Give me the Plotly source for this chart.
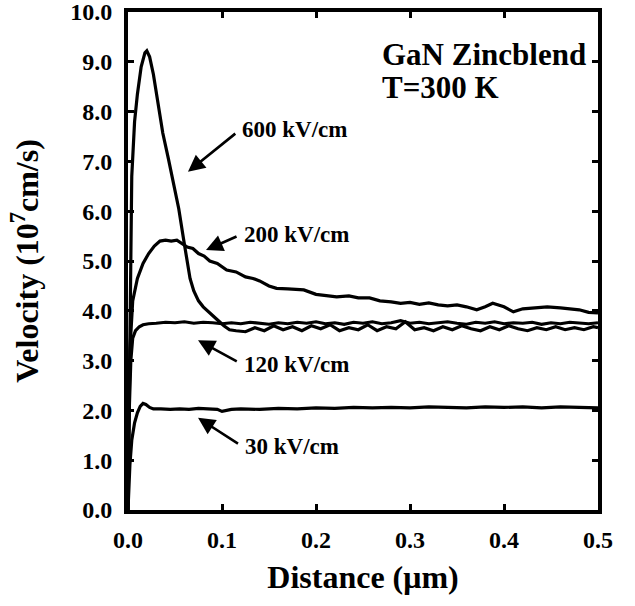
import plotly.graph_objects as go

# ---- data ----
x600 = [0, 0.002, 0.004, 0.007, 0.010, 0.014, 0.018, 0.020, 0.023, 0.027, 0.031, 0.037,
        0.043, 0.048, 0.054, 0.059, 0.063, 0.066, 0.070, 0.075, 0.080, 0.087, 0.095, 0.102,
        0.108, 0.115, 0.125, 0.135, 0.145, 0.155, 0.165, 0.175, 0.185, 0.195, 0.205, 0.215,
        0.225, 0.235, 0.245, 0.255, 0.265, 0.275, 0.285, 0.295, 0.305, 0.315, 0.325, 0.335,
        0.345, 0.355, 0.365, 0.375, 0.385, 0.395, 0.405, 0.415, 0.425, 0.435, 0.445, 0.455,
        0.465, 0.475, 0.485, 0.495, 0.5]
v600 = [0, 4.0, 6.7, 7.8, 8.35, 8.9, 9.18, 9.22, 9.1, 8.75, 8.3, 7.57,
        7.05, 6.57, 6.05, 5.45, 5.0, 4.65, 4.4, 4.2, 4.08, 3.95, 3.82, 3.7,
        3.62, 3.6, 3.58, 3.66, 3.6, 3.7, 3.62, 3.68, 3.6, 3.7, 3.64, 3.72,
        3.6, 3.66, 3.62, 3.72, 3.6, 3.68, 3.64, 3.78, 3.62, 3.66, 3.6, 3.68,
        3.62, 3.7, 3.64, 3.6, 3.68, 3.62, 3.7, 3.64, 3.6, 3.66, 3.62, 3.68,
        3.62, 3.66, 3.62, 3.68, 3.66]

x200 = [0, 0.002, 0.005, 0.010, 0.016, 0.022, 0.028, 0.034, 0.040, 0.046, 0.052, 0.058,
        0.063, 0.069, 0.075, 0.081, 0.087, 0.095, 0.105, 0.115, 0.125, 0.133, 0.140, 0.150,
        0.158, 0.170, 0.180, 0.187, 0.200, 0.210, 0.222, 0.235, 0.245, 0.257, 0.268, 0.280,
        0.290, 0.300, 0.310, 0.320, 0.330, 0.340, 0.350, 0.360, 0.371, 0.380, 0.388, 0.400,
        0.410, 0.420, 0.430, 0.446, 0.460, 0.470, 0.480, 0.490, 0.500]
v200 = [0, 3.2, 4.2, 4.65, 4.95, 5.15, 5.3, 5.4, 5.42, 5.4, 5.42, 5.35,
        5.28, 5.25, 5.15, 5.1, 5.0, 4.95, 4.82, 4.78, 4.68, 4.65, 4.6, 4.5,
        4.45, 4.44, 4.42, 4.42, 4.33, 4.3, 4.28, 4.3, 4.26, 4.26, 4.2, 4.18,
        4.15, 4.17, 4.13, 4.16, 4.12, 4.1, 4.12, 4.08, 4.02, 4.08, 4.15, 4.08,
        3.98, 4.04, 4.06, 4.08, 4.06, 4.04, 4.02, 3.97, 3.96]

x120 = [0, 0.001, 0.003, 0.005, 0.008, 0.012, 0.016, 0.022, 0.030, 0.040, 0.050, 0.060,
        0.070, 0.080, 0.090, 0.100, 0.110, 0.120, 0.130, 0.140, 0.150, 0.160, 0.170, 0.180,
        0.190, 0.200, 0.210, 0.220, 0.230, 0.240, 0.250, 0.260, 0.270, 0.280, 0.290, 0.300,
        0.310, 0.320, 0.330, 0.340, 0.350, 0.360, 0.370, 0.380, 0.390, 0.400, 0.410, 0.420,
        0.430, 0.440, 0.450, 0.460, 0.470, 0.480, 0.490, 0.500]
v120 = [0, 1.8, 3.0, 3.45, 3.6, 3.68, 3.72, 3.74, 3.75, 3.77, 3.76, 3.78,
        3.75, 3.77, 3.76, 3.74, 3.76, 3.74, 3.77, 3.75, 3.73, 3.76, 3.74, 3.77,
        3.75, 3.78, 3.74, 3.76, 3.73, 3.77, 3.75, 3.78, 3.74, 3.76, 3.8, 3.75,
        3.77, 3.74, 3.76, 3.78, 3.75, 3.73, 3.77, 3.75, 3.78, 3.74, 3.76, 3.75,
        3.77, 3.73, 3.76, 3.74, 3.77, 3.75, 3.74, 3.76]

x30 = [0, 0.002, 0.004, 0.007, 0.010, 0.013, 0.016, 0.019, 0.023, 0.027, 0.035, 0.045,
       0.055, 0.065, 0.075, 0.085, 0.095, 0.100, 0.110, 0.120, 0.140, 0.160, 0.180, 0.200,
       0.220, 0.240, 0.260, 0.280, 0.300, 0.320, 0.340, 0.360, 0.380, 0.400, 0.420, 0.440,
       0.460, 0.480, 0.500]
v30 = [0, 0.9, 1.4, 1.75, 1.95, 2.08, 2.14, 2.12, 2.06, 2.03, 2.03, 2.02,
       2.03, 2.02, 2.04, 2.03, 2.02, 1.98, 2.02, 2.03, 2.02, 2.04, 2.03, 2.05,
       2.04, 2.06, 2.05, 2.06, 2.05, 2.07, 2.06, 2.05, 2.07, 2.06, 2.07, 2.05,
       2.07, 2.06, 2.05]

series = [("600 kV/cm", x600, v600), ("200 kV/cm", x200, v200),
          ("120 kV/cm", x120, v120), ("30 kV/cm", x30, v30)]

x_ticks = [0.0, 0.1, 0.2, 0.3, 0.4, 0.5]
y_ticks = [0.0, 1.0, 2.0, 3.0, 4.0, 5.0, 6.0, 7.0, 8.0, 9.0, 10.0]

FONT = "Liberation Serif, Times New Roman, serif"

fig = go.Figure()
for name, xs, ys in series:
    fig.add_trace(go.Scatter(x=xs, y=ys, mode="lines", name=name,
                             line=dict(color="black", width=3.2), showlegend=False))

# labels: (text, arrow-head x, arrow-head y, text-anchor offset ax, ay in pixels)
labels = [
    ("600 kV/cm", 0.0638, 6.79, 52, -42),
    ("200 kV/cm", 0.083, 5.22, 36, -16),
    ("120 kV/cm", 0.0745, 3.41, 44, 24),
    ("30 kV/cm", 0.0745, 1.85, 45, 29),
]
for text, hx, hy, ax, ay in labels:
    fig.add_annotation(x=hx, y=hy, ax=ax, ay=ay, axref="pixel", ayref="pixel",
                       text=text, showarrow=True, arrowhead=2, arrowsize=1.3,
                       arrowwidth=2.6, arrowcolor="black", startstandoff=6,
                       xanchor="left", yanchor="middle",
                       font=dict(family=FONT, size=23, color="black", weight="bold"))

fig.add_annotation(x=0.268, y=9.14, text="GaN Zincblend", showarrow=False,
                   xanchor="left", yanchor="middle",
                   font=dict(family=FONT, size=31, color="black", weight="bold"))
fig.add_annotation(x=0.268, y=8.49, text="T=300 K", showarrow=False,
                   xanchor="left", yanchor="middle",
                   font=dict(family=FONT, size=31, color="black", weight="bold"))

axis_common = dict(showline=True, linecolor="black", linewidth=4, mirror="allticks",
                   ticks="inside", ticklen=6, tickwidth=3, tickcolor="black",
                   showgrid=False, zeroline=False,
                   ticklabeloverflow="allow",
                   tickfont=dict(family=FONT, size=24, color="black", weight="bold"))

fig.update_xaxes(range=[0, 0.5], tickvals=x_ticks, automargin=False,
                 ticktext=[f"{v:.1f}" for v in x_ticks], ticklabelstandoff=5,
                 title=dict(text="Distance (\u03bcm)",
                            font=dict(family=FONT, size=32, color="black", weight="bold")),
                 **axis_common)
fig.update_yaxes(range=[0, 10], tickvals=y_ticks, automargin="left",
                 ticktext=[f"{v:.1f}" for v in y_ticks], ticklabelstandoff=7,
                 title=dict(text="Velocity (10<sup>7</sup>cm/s)", standoff=23,
                            font=dict(family=FONT, size=32, color="black", weight="bold")),
                 **axis_common)

fig.update_layout(width=635, height=606, margin=dict(l=128, r=37, t=12, b=96),
                  paper_bgcolor="white", plot_bgcolor="white",
                  font=dict(family=FONT, color="black"))

fig.write_html("out.html", config={"displayModeBar": False},
               post_script="document.body.style.margin='0px';"
                           "document.body.style.padding='0px';"
                           "document.body.style.overflow='hidden';")
